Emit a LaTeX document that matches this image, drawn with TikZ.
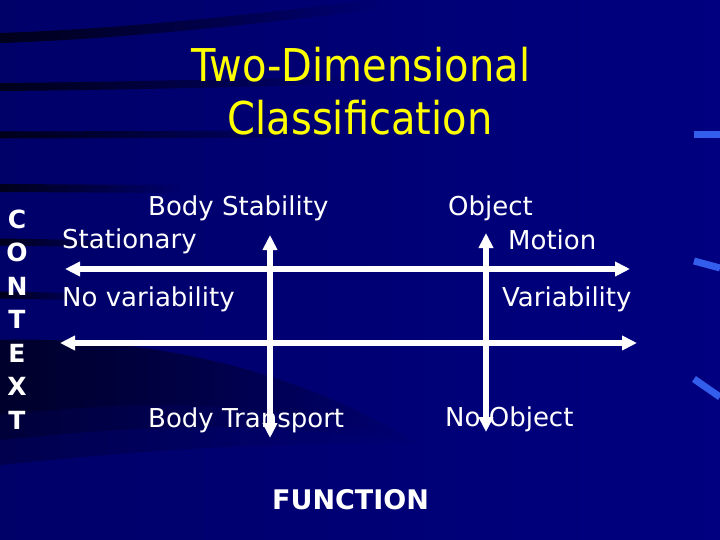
\documentclass[tikz,border=0pt]{standalone}
\usepackage{fontspec}
\setmainfont{DejaVu Sans}
\usetikzlibrary{arrows.meta,fadings}

\definecolor{slidebg}{RGB}{0,0,128}
\definecolor{slidebgdark}{RGB}{0,0,105}
\definecolor{titleyellow}{RGB}{255,255,0}
\definecolor{streakblue}{RGB}{60,110,255}

\newcommand{\tallbox}[1]{\scalebox{1}[1.13]{#1}}

\begin{document}
\begin{tikzpicture}[x=1pt,y=-1pt,
  lbl/.style={text=white,inner sep=0pt,anchor=base west,font=\fontsize{26}{30}\selectfont},
  titletext/.style={text=titleyellow,inner sep=0pt,anchor=base,font=\fontsize{40}{48}\selectfont},
  ctxletter/.style={text=white,inner sep=0pt,font=\bfseries\fontsize{25}{30}\selectfont},
  band/.style={black,opacity=0.75,path fading=east},
  axis/.style={white,line width=6pt,{Triangle[length=15pt,width=14pt]}-{Triangle[length=15pt,width=14pt]}}]

\useasboundingbox (0,0) rectangle (720,540);
\shade[left color=slidebgdark,right color=slidebg] (0,0) rectangle (720,540);

% dark streaks on the left
\draw[band,line width=10pt] (0,38) .. controls (120,34) and (250,20) .. (380,4);
\draw[band,line width=8pt] (0,87) .. controls (120,86) and (240,83) .. (360,80);
\draw[band,line width=7pt] (0,135) -- (340,134);
\draw[band,line width=8pt] (0,188) -- (180,189);
\draw[band,line width=7pt] (0,242) -- (130,244);
\draw[band,line width=7pt] (0,295) -- (100,297);
\foreach \low in {415,440,465}
  \fill[band,opacity=0.25] (0,340) .. controls (150,336) and (300,370) .. (420,445)
    .. controls (250,{\low-25}) and (100,{\low-10}) .. (0,\low) -- cycle;

% light streaks on the right
\draw[streakblue,line width=7pt,opacity=0.85] (694,135) -- (720,135);
\draw[streakblue,line width=7pt,opacity=0.85] (694,261) -- (720,268);
\draw[streakblue,line width=7pt,opacity=0.85] (694,379) -- (720,397);

\node[titletext] (title1) at (361,82) {\tallbox{Two-Dimensional}};
\node[titletext] (title2) at (360,135) {\tallbox{Classification}};

\foreach \ch [count=\i] in {C,O,N,T,E,X,T}
  \node[ctxletter] (ctx\i) at (17,{219+33.5*(\i-1)}) {\ch};

\coordinate (hAl) at (65,269);
\coordinate (hAr) at (630,269);
\coordinate (hBl) at (60,343);
\coordinate (hBr) at (637,343);
\coordinate (vAt) at (270,235);
\coordinate (vAb) at (270,438);
\coordinate (vBt) at (486,233);
\coordinate (vBb) at (486,432);

\draw[axis] (hAl) -- (hAr);
\draw[axis] (hBl) -- (hBr);
\draw[axis] (vAt) -- (vAb);
\draw[axis] (vBt) -- (vBb);

\node[lbl] (stability) at (148,215) {Body Stability};
\node[lbl] (stationary) at (62,248) {Stationary};
\node[lbl] (novar) at (62,306) {No variability};
\node[lbl] (object) at (448,215) {Object};
\node[lbl] (motion) at (508,249) {Motion};
\node[lbl] (variability) at (502,306) {Variability};
\node[lbl] (transport) at (148,427) {Body Transport};
\node[lbl] (noobject) at (445,426) {No Object};
\node[lbl,font=\bfseries\fontsize{27}{30}\selectfont] (function) at (272,509) {FUNCTION};

\end{tikzpicture}
\end{document}
